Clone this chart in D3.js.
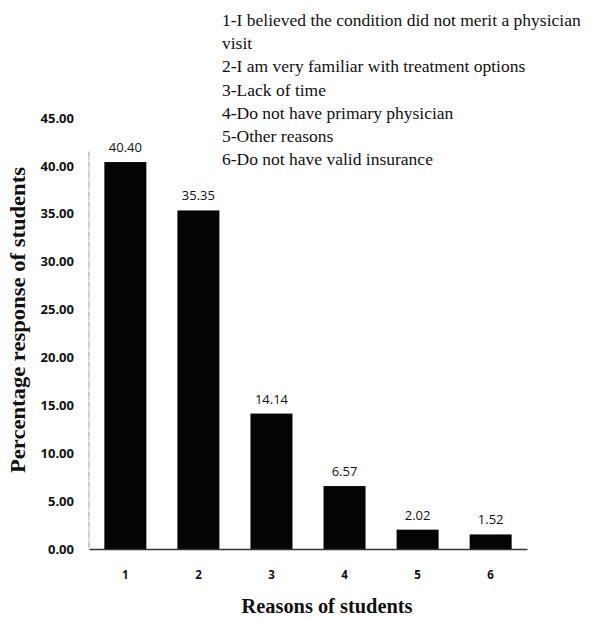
<!DOCTYPE html>
<html>
<head>
<meta charset="utf-8">
<script src="https://cdn.jsdelivr.net/npm/d3@7"></script>
<style>
  html, body { margin: 0; padding: 0; background: #fff; }
  svg { display: block; }
</style>
</head>
<body>
<svg id="chart" width="590" height="620"></svg>
<script>
// Reasons for not visiting a physician, percentage of student responses
const categories = ["1", "2", "3", "4", "5", "6"];
const values = [40.40, 35.35, 14.14, 6.57, 2.02, 1.52];
const yTicks = [0, 5, 10, 15, 20, 25, 30, 35, 40, 45];
const legendLines = [
  "1-I believed the condition did not merit a physician",
  "visit",
  "2-I am very familiar with treatment options",
  "3-Lack of time",
  "4-Do not have primary physician",
  "5-Other reasons",
  "6-Do not have valid insurance"
];

const svg = d3.select("#chart");

const x = d3.scaleBand()
  .domain(categories)
  .range([89, 527])
  .paddingInner(0.425)
  .paddingOuter(0.21);

const y = d3.scaleLinear()
  .domain([0, 45])
  .range([549, 118]);

// bars
svg.append("g")
  .selectAll("rect")
  .data(values)
  .join("rect")
  .attr("x", (d, i) => x(categories[i]))
  .attr("y", d => y(d))
  .attr("width", x.bandwidth())
  .attr("height", d => y(0) - y(d))
  .attr("fill", "#050505");

// value labels
svg.append("g")
  .selectAll("text")
  .data(values)
  .join("text")
  .attr("x", (d, i) => x(categories[i]) + x.bandwidth() / 2)
  .attr("y", d => y(d) - 10)
  .attr("text-anchor", "middle")
  .attr("font-family", "'Open Sans', sans-serif")
  .attr("font-size", 13)
  .attr("fill", "#111")
  .text(d => d.toFixed(2));

// y axis
const yAxis = svg.append("g")
  .attr("transform", "translate(89,0)")
  .call(d3.axisLeft(y).tickValues(yTicks).tickSize(0).tickPadding(15).tickFormat(d => d.toFixed(2)));
yAxis.select(".domain")
  .attr("d", `M0,${y(41.5)}V${y(0)}`)
  .attr("stroke", "#9a9a9a")
  .attr("stroke-width", 1)
  .attr("stroke-dasharray", "6,1,2,1");
yAxis.selectAll("text")
  .attr("font-family", "'Open Sans', sans-serif")
  .attr("font-weight", "bold")
  .attr("font-size", 13)
  .attr("fill", "#111");

// x axis
const xAxis = svg.append("g")
  .attr("transform", `translate(0,${y(0)})`)
  .call(d3.axisBottom(x).tickSize(0).tickPadding(22));
xAxis.select(".domain")
  .attr("stroke", "#333")
  .attr("stroke-width", 1.3);
xAxis.selectAll("text")
  .attr("font-family", "'Open Sans', sans-serif")
  .attr("font-weight", "bold")
  .attr("font-size", 11.5)
  .attr("fill", "#111");

// axis titles
svg.append("text")
  .attr("transform", "translate(25,320) rotate(-90)")
  .attr("text-anchor", "middle")
  .attr("font-family", "'Liberation Serif', 'Times New Roman', serif")
  .attr("font-weight", "bold")
  .attr("font-size", 20)
  .attr("textLength", 306)
  .attr("lengthAdjust", "spacingAndGlyphs")
  .attr("fill", "#111")
  .text("Percentage response of students");

svg.append("text")
  .attr("x", 327)
  .attr("y", 613)
  .attr("text-anchor", "middle")
  .attr("font-family", "'Liberation Serif', 'Times New Roman', serif")
  .attr("font-weight", "bold")
  .attr("font-size", 20)
  .attr("textLength", 171)
  .attr("lengthAdjust", "spacingAndGlyphs")
  .attr("fill", "#111")
  .text("Reasons of students");

// legend of reasons
svg.append("g")
  .selectAll("text")
  .data(legendLines)
  .join("text")
  .attr("x", 222)
  .attr("y", (d, i) => 26 + i * 23.2)
  .attr("font-family", "'Liberation Serif', 'Times New Roman', serif")
  .attr("font-size", 17.5)
  .attr("fill", "#111")
  .text(d => d);
</script>
</body>
</html>
